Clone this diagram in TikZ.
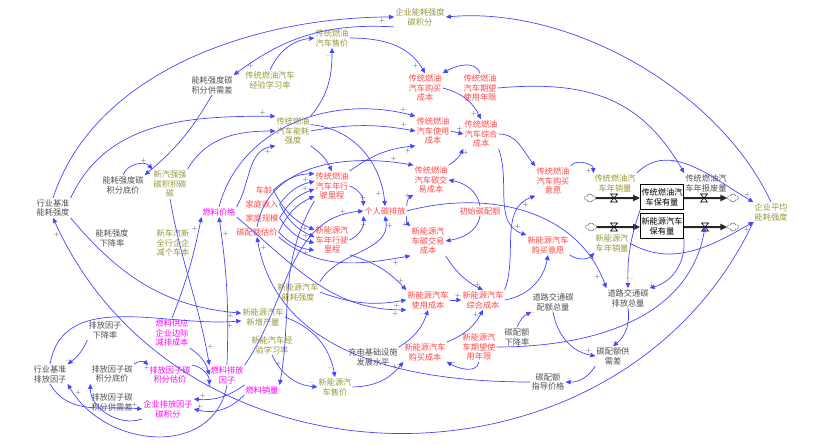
\documentclass[tikz,border=0pt]{standalone}
\usepackage{fontspec}
\newfontfamily\cjk{Noto Sans CJK SC}
\usetikzlibrary{arrows.meta,shapes.symbols}
\definecolor{olivetxt}{RGB}{150,150,60}
\definecolor{redtxt}{RGB}{255,70,70}
\definecolor{magtxt}{RGB}{255,0,255}
\definecolor{graytxt}{RGB}{80,80,80}
\definecolor{linkblue}{RGB}{70,70,255}
\tikzset{
  var/.style={align=center,font=\cjk\fontsize{8.2}{9.8}\selectfont,inner sep=1pt},
  olv/.style={var,text=olivetxt},
  rd/.style={var,text=redtxt},
  mg/.style={var,text=magtxt},
  gy/.style={var,text=graytxt},
  stock/.style={var,draw=black,line width=0.8pt,text=black,minimum width=42pt,minimum height=25pt},
  link/.style={draw=linkblue,line width=0.7pt,-{Triangle[length=5pt,width=4.5pt]}},
  pipe/.style={draw=black!85,line width=2pt,-{Triangle[length=7pt,width=6pt]}},
  sgn/.style={font=\fontsize{7}{7}\selectfont,text=black!70,inner sep=1pt},
  src/.style={cloud,draw=black!70,cloud puffs=6,minimum width=11pt,minimum height=8pt,inner sep=0pt,fill=white},
  valve/.pic={\filldraw[fill=white,draw=black,line width=0.6pt] (-3.5,4) -- (3.5,4) -- (-3.5,-4) -- (3.5,-4) -- cycle;}
}
\begin{document}
\begin{tikzpicture}[x=1pt,y=1pt]
  \useasboundingbox (0,0) rectangle (830,-444);
  % variables
  \node[olv] (qynh) at (420,-17) {企业能耗强度\\碳积分};
  \node[olv] (ctsj) at (332,-38) {传统燃油\\汽车售价};
  \node[gy] (nhgxc) at (212,-85) {能耗强度碳\\积分供需差};
  \node[olv] (ctjy) at (270,-80) {传统燃油汽车\\经验学习率};
  \node[rd] (ctgm) at (425,-88) {传统燃油\\汽车购买\\成本};
  \node[rd] (ctqw) at (480,-88) {传统燃油\\汽车期望\\使用年限};
  \node[olv] (ctnh) at (293,-131) {传统燃油\\汽车能耗\\强度};
  \node[rd] (ctsy) at (433,-131) {传统燃油\\汽车使用\\成本};
  \node[rd] (ctzh) at (481,-134) {传统燃油\\汽车综合\\成本};
  \node[gy] (nhdj) at (123,-185) {能耗强度碳\\积分底价};
  \node[olv] (xqqq) at (170,-184) {新汽强强\\碳积积碳\\碳};
  \node[gy] (hyjz) at (53,-208) {行业基准\\能耗强度};
  \node[gy] (nhxjl) at (112,-238) {能耗强度\\下降率};
  \node[olv] (xcqx) at (173,-243) {新车汽新\\全行企企\\减个车本};
  \node[mg] (rljg) at (219,-212) {燃料价格};
  \node[rd] (cl) at (264,-190) {车龄};
  \node[rd] (jtsr) at (262,-204) {家庭收入};
  \node[rd] (jtgm) at (262,-218) {家庭规模};
  \node[rd] (tpgj) at (257,-232) {碳配额估价};
  \node[rd] (ctlc) at (332,-186) {传统燃油\\汽车年行\\驶里程};
  \node[rd] (grtp) at (385,-211) {个人碳排放};
  \node[rd] (ctjt) at (431,-180) {传统燃油\\汽车碳交\\易成本};
  \node[rd] (xnlc) at (332,-240) {新能源汽\\车年行驶\\里程};
  \node[rd] (xnjt) at (428,-241) {新能源汽\\车碳交易\\成本};
  \node[rd] (cspe) at (480,-211) {初始碳配额};
  \node[rd] (ctyy) at (553,-181) {传统燃油\\汽车购买\\意愿};
  \node[rd] (xnyy) at (548,-245) {新能源汽车\\购买意愿};
  \node[olv] (ctxl) at (615,-183) {传统燃油汽\\车年销量};
  \node[stock] (ctbyl) at (662,-197) {传统燃油汽\\车保有量};
  \node[gy] (ctbf) at (706,-183) {传统燃油汽\\车年报废量};
  \node[stock] (xnbyl) at (662,-226) {新能源汽车\\保有量};
  \node[olv] (xnxl) at (612,-243) {新能源汽\\车年销量};
  \node[olv] (qypj) at (771,-212) {企业平均\\能耗强度};
  \node[olv] (xnnh) at (298,-292) {新能源汽车\\能耗强度};
  \node[olv] (xnxz) at (263,-317) {新能源汽车\\新增产量};
  \node[rd] (xnsy) at (428,-300) {新能源汽车\\使用成本};
  \node[rd] (xnzh) at (483,-300) {新能源汽车\\综合成本};
  \node[gy] (dlpe) at (553,-302) {道路交通碳\\配额总量};
  \node[gy] (dlpf) at (628,-298) {道路交通碳\\排放总量};
  \node[olv] (xnjy) at (272,-345) {新能汽车经\\验学习率};
  \node[mg] (rlgy) at (172,-333) {燃料供应\\企业边际\\减排成本};
  \node[gy] (pfxjl) at (105,-330) {排放因子\\下降率};
  \node[gy] (hyjzpf) at (50,-374) {行业基准\\排放因子};
  \node[gy] (pfdj) at (112,-374) {排放因子碳\\积分底价};
  \node[mg] (pfgj) at (170,-375) {排放因子碳\\积分估价};
  \node[mg] (rlpf) at (227,-375) {燃料排放\\因子};
  \node[gy] (pfgxc) at (112,-402) {排放因子碳\\积分供需差};
  \node[mg] (qypfjf) at (168,-409) {企业排放因子\\碳积分};
  \node[mg] (rlxl) at (262,-390) {燃料销量};
  \node[olv] (xnsj) at (335,-387) {新能源汽\\车售价};
  \node[gy] (cdjc) at (373,-357) {充电基础设施\\发展水平};
  \node[rd] (xngm) at (425,-352) {新能源汽车\\购买成本};
  \node[rd] (xnqw) at (479,-347) {新能源汽\\车期望使\\用年限};
  \node[gy] (tpxjl) at (517,-337) {碳配额\\下降率};
  \node[gy] (gxc) at (613,-356) {碳配额供\\需差};
  \node[gy] (zdjg) at (548,-382) {碳配额\\指导价格};
  % stocks and flows
  \node[src] (c1) at (590,-198) {};
  \node[src] (c2) at (733,-198) {};
  \node[src] (c3) at (591,-227) {};
  \node[src] (c4) at (733,-227) {};
  \draw[pipe] (c1.east) -- (ctbyl.west |- c1);
  \draw[pipe] (ctbyl.east |- c2) -- (c2.west);
  \draw[pipe] (c3.east) -- (xnbyl.west |- c3);
  \draw[pipe] (xnbyl.east |- c4) -- (c4.west);
  \coordinate (ctin) at (614,-198);
  \coordinate (ctout) at (704,-198);
  \coordinate (xnin) at (614,-227);
  \coordinate (xnout) at (705,-227);
  \pic at (ctin) {valve};
  \pic at (ctout) {valve};
  \pic at (xnin) {valve};
  \pic at (xnout) {valve};
  % energy intensity credit
  \draw[link] (hyjz.north) to[out=72,in=180,looseness=.9] node[sgn,pos=.97,below]{+} (qynh.west);
  \draw[link] (qypj.north) to[out=115,in=5,looseness=.85] node[sgn,pos=.97,below]{--} (qynh.east);
  \draw[link] (qynh.south west) to[bend right=20] node[sgn,pos=.92,right]{+} (nhgxc.north east);
  \draw[link] (nhgxc.south) to[bend left=10] node[sgn,pos=.9,left]{--} (nhdj.north east);
  \draw[link] (nhdj.north) to[bend left=60] node[sgn,pos=.7,above]{+} (xqqq.north west);
  \draw[link] (ctjy.north) to[bend left=30] node[sgn,pos=.85,below right]{--} (ctsj.west);
  \draw[link] (ctnh.north east) to[out=50,in=-90] node[sgn,pos=.9,left]{--} (ctsj.south);
  \draw[link] (ctsj.east) to[out=0,in=120] node[sgn,pos=.9,left]{+} (ctgm.north);
  \draw[link] (ctqw.north) to[out=110,in=30] node[sgn,pos=.85,below]{--} (ctgm.north east);
  \draw[link] (ctgm.east) to[bend left=25] node[sgn,pos=.9,left]{+} (ctzh.north);
  \draw[link] (ctsy.east) -- node[sgn,pos=.7,above]{+} (ctzh.west);
  \draw[link] (ctnh.east) to[bend left=10] node[sgn,pos=.9,above]{+} (ctsy.west);
  \draw[link] (rljg.north) to[out=75,in=165] node[sgn,pos=.95,above]{+} (ctsy.north west);
  \draw[link] (ctlc.north east) to[bend left=15] node[sgn,pos=.9,below]{+} (ctsy.south west);
  \draw[link] (hyjz.north east) to[out=65,in=180] node[sgn,pos=.95,above]{+} (ctnh.north west);
  \draw[link] (xqqq.north east) to[out=60,in=180] node[sgn,pos=.9,below]{--} (ctnh.west);
  \draw[link] (rljg.north east) to[out=60,in=190] node[sgn,pos=.9,below]{+} (ctnh.south west);
  \draw[link] (ctnh.south east) to[bend left=15] node[sgn,pos=.8,left]{--} (ctlc.north);
  % mileage
  \draw[link] (cl.east) to[bend left=20] node[sgn,pos=.8,above]{--} (ctlc.145);
  \draw[link] (jtsr.east) to[bend left=20] node[sgn,pos=.8,above]{+} (ctlc.165);
  \draw[link] (jtgm.east) to[bend left=20] node[sgn,pos=.8,above]{+} (ctlc.190);
  \draw[link] (tpgj.east) to[bend left=20] node[sgn,pos=.8,below]{--} (ctlc.210);
  \draw[link] (cl.east) to[bend right=20] node[sgn,pos=.8,above]{--} (xnlc.150);
  \draw[link] (jtsr.east) to[bend right=20] node[sgn,pos=.8,above]{+} (xnlc.170);
  \draw[link] (jtgm.east) to[bend right=20] node[sgn,pos=.8,above]{+} (xnlc.190);
  \draw[link] (tpgj.east) to[bend right=20] node[sgn,pos=.8,below]{+} (xnlc.210);
  % personal emission
  \draw[link] (ctlc.east) to[bend left=35] node[sgn,pos=.85,above]{+} (grtp.north west);
  \draw[link] (xnlc.east) to[bend right=35] node[sgn,pos=.85,below]{+} (grtp.south west);
  \draw[link] (xnnh.north east) to[out=60,in=-80] node[sgn,pos=.9,right]{+} (grtp.south);
  \draw[link] (rlpf.north east) to[out=55,in=185] node[sgn,pos=.9,above]{+} (grtp.west);
  \draw[link] (ctnh.20) to[out=-5,in=95] node[sgn,pos=.9,left]{+} (grtp.north);
  \draw[link] (grtp.north east) to[bend left=30] node[sgn,pos=.85,left]{+} (ctjt.south west);
  \draw[link] (grtp.south east) to[bend right=30] node[sgn,pos=.85,left]{+} (xnjt.north west);
  \draw[link] (cspe.north) to[out=100,in=-10] node[sgn,pos=.9,below]{--} (ctjt.east);
  \draw[link] (cspe.south) to[out=-100,in=10] node[sgn,pos=.9,above]{--} (xnjt.east);
  \draw[link] (tpgj.north) to[out=80,in=170] node[sgn,pos=.9,above]{+} (ctjt.north west);
  \draw[link] (tpgj.south east) to[out=-40,in=190] node[sgn,pos=.9,below]{+} (xnjt.south west);
  \draw[link] (ctjt.north east) to[bend right=15] node[sgn,pos=.8,right]{+} (ctzh.south west);
  \draw[link] (xnjt.south east) to[bend right=15] node[sgn,pos=.8,right]{+} (xnzh.north);
  % purchase intention
  \draw[link] (ctzh.east) to[out=0,in=130] node[sgn,pos=.85,above]{--} (ctyy.north west);
  \draw[link] (ctzh.south east) to[out=-70,in=160] node[sgn,pos=.9,above]{+} (xnyy.north west);
  \draw[link] (xnzh.north east) to[out=70,in=200] node[sgn,pos=.9,below]{+} (ctyy.south west);
  \draw[link] (xnzh.east) to[out=10,in=-100] node[sgn,pos=.9,right]{--} (xnyy.south);
  \draw[link] (ctyy.north east) to[out=60,in=90] node[sgn,pos=.9,left]{+} (ctxl.north west);
  \draw[link] (xnyy.south east) to[bend right=40] node[sgn,pos=.9,below]{+} (xnxl.south west);
  % road traffic quota
  \draw[link] (grtp.east) to[out=15,in=110] node[sgn,pos=.95,left]{+} (dlpf.north west);
  \draw[link] (ctbyl.south west) to[bend right=10] node[sgn,pos=.9,right]{--} (dlpf.north);
  \draw[link] (xnbyl.south east) to[bend left=40] node[sgn,pos=.9,left]{+} (dlpf.north east);
  \draw[link] (dlpe.south) to[out=-80,in=170] node[sgn,pos=.9,above]{+} (gxc.west);
  \draw[link] (dlpf.south) to[bend left=30] node[sgn,pos=.9,left]{--} (gxc.north);
  \draw[link] (gxc.south west) to[bend left=30] node[sgn,pos=.9,above]{--} (zdjg.east);
  \draw[link] (tpxjl.north) to[bend left=20] node[sgn,pos=.9,right]{--} (dlpe.south west);
  \draw[link] (zdjg.west) to[out=180,in=-80] node[sgn,pos=.97,right]{+} (tpgj.south);
  \draw[link] (ctqw.east) to[out=5,in=120,looseness=1.1] node[sgn,pos=.95,left]{--} (ctbf.north west);
  \draw[link] (xnqw.east) to[out=0,in=-100] node[sgn,pos=.95,left]{--} (xnout);
  \draw[link] (ctxl.north east) to[out=45,in=150] node[sgn,pos=.95,above]{+} (qypj.north west);
  \draw[link] (xnxl.east) to[out=-30,in=-150] node[sgn,pos=.95,below]{+} (qypj.south west);
  \draw[link] (qypj.south west) .. controls (620,-504) and (183,-504) .. node[sgn,pos=.98,left]{+} (hyjz.south);
  \draw[link] (hyjz.south east) to[out=-50,in=175] node[sgn,pos=.95,below]{+} (xnxz.170);
  \draw[link] (hyjzpf.north) to[out=80,in=185] node[sgn,pos=.95,below]{+} (xnxz.190);
  % fuel and emission factor
  \draw[link] (rlgy.north) to[bend right=5] node[sgn,pos=.9,left]{+} (rljg.south west);
  \draw[link] (rlpf.north) to[bend right=5] node[sgn,pos=.9,right]{+} (rljg.south);
  \draw[link] (xqqq.south) to[out=-80,in=100] node[sgn,pos=.9,right]{+} (rlpf.north west);
  \draw[link] (rlgy.south east) to[bend left=20] node[sgn,pos=.8,left]{--} (rlpf.west);
  \draw[link] (pfgj.north east) to[bend left=40] node[sgn,pos=.9,below]{+} (rlpf.south west);
  \draw[link] (pfdj.north east) to[bend left=40] node[sgn,pos=.9,below]{+} (pfgj.north west);
  \draw[link] (pfxjl.south west) to[bend left=15] node[sgn,pos=.9,left]{--} (hyjzpf.north east);
  \draw[link] (hyjzpf.south) to[out=-60,in=175] node[sgn,pos=.97,above left]{+} (qypfjf.west);
  \draw[link] (rlpf.south) to[out=-100,in=-60,looseness=1.2] node[sgn,pos=.95,right]{+} (hyjzpf.south east);
  \draw[link] (rlpf.south east) to[bend left=20] node[sgn,pos=.85,above]{+} (qypfjf.north east);
  \draw[link] (rlxl.south west) to[bend left=30] node[sgn,pos=.9,above]{+} (qypfjf.east);
  \draw[link] (qypfjf.south west) to[out=200,in=-90] node[sgn,pos=.9,left]{--} (pfdj.south west);
  \draw[link] (ctlc.south west) to[out=-120,in=80] node[sgn,pos=.9,left]{+} (rlxl.north east);
  % new energy vehicle cost
  \draw[link] (xnjy.south) to[bend right=30] node[sgn,pos=.9,above]{--} (xnsj.west);
  \draw[link] (xnxz.east) to[out=-20,in=100] node[sgn,pos=.9,left]{--} (xnsj.north);
  \draw[link] (xnsj.east) to[bend right=25] node[sgn,pos=.9,left]{+} (xngm.south west);
  \draw[link] (cdjc.north east) to[bend right=20] node[sgn,pos=.9,left]{--} (xnsy.south);
  \draw[link] (xnqw.south) to[out=-100,in=-30] node[sgn,pos=.9,right]{--} (xngm.south east);
  \draw[link] (xngm.north east) to[bend right=20] node[sgn,pos=.9,left]{+} (xnzh.south);
  \draw[link] (xnsy.east) -- node[sgn,pos=.7,above]{+} (xnzh.west);
  \draw[link] (xnnh.east) to[bend right=15] node[sgn,pos=.9,below]{+} (xnsy.west);
  \draw[link] (xnlc.south east) to[bend left=15] node[sgn,pos=.9,above]{+} (xnsy.north west);
  \draw[link] (rljg.south east) to[out=-40,in=180] node[sgn,pos=.95,below]{+} (xnsy.south west);
\end{tikzpicture}
\end{document}
